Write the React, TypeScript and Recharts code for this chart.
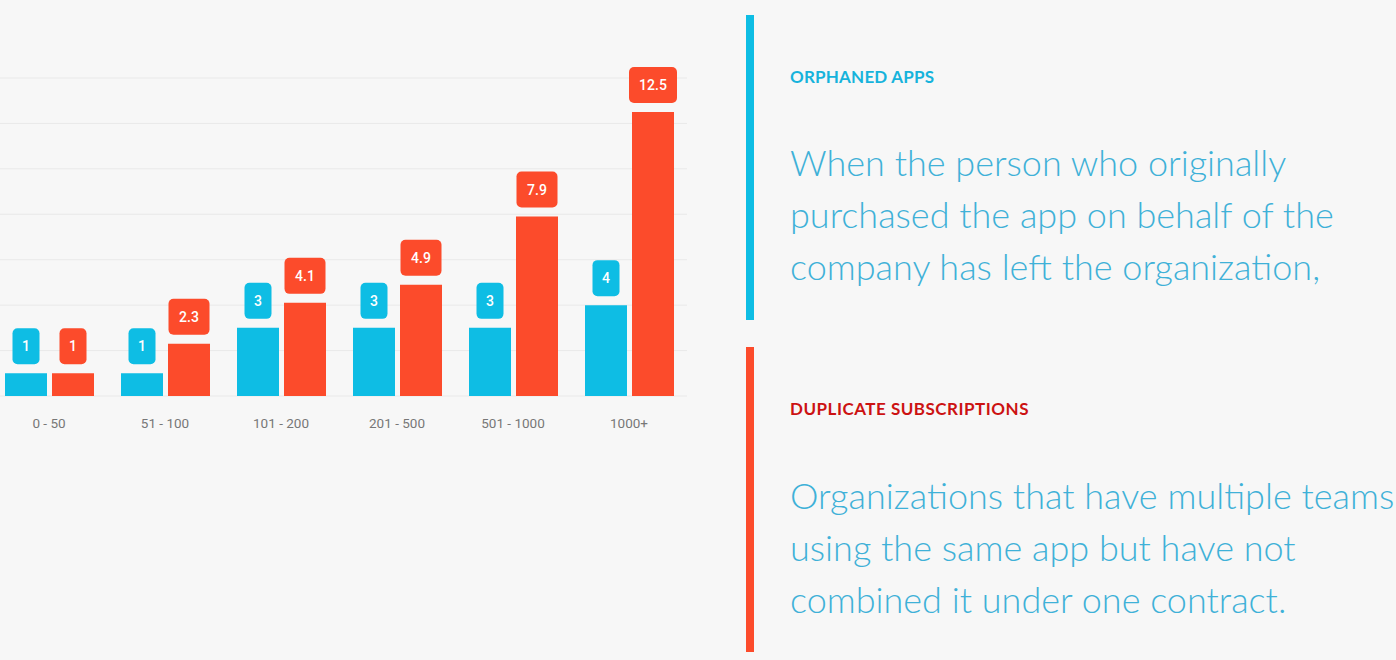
import { BarChart, Bar, XAxis, YAxis, CartesianGrid, LabelList } from "recharts";

const categories = ["0 - 50", "51 - 100", "101 - 200", "201 - 500", "501 - 1000", "1000+"];
const orphaned = [1, 1, 3, 3, 3, 4];
const duplicate = [1, 2.3, 4.1, 4.9, 7.9, 12.5];
const yTicks = [0, 2, 4, 6, 8, 10, 12, 14];

const data = categories.map((name, i) => ({
  name,
  orphaned: orphaned[i],
  duplicate: duplicate[i],
}));

const BLUE = "#0ebde4";
const RED = "#fc4b2b";

function Badge(color: string) {
  return (props: any) => {
    const { x, y, width, value } = props;
    const text = String(value);
    const w = 20 + 7 * text.length;
    const h = 36;
    const cx = x + width / 2;
    const top = y - 9 - h;
    return (
      <g>
        <rect x={cx - w / 2} y={top} width={w} height={h} rx={5} ry={5} fill={color} />
        <text
          x={cx}
          y={top + h / 2}
          textAnchor="middle"
          dominantBaseline="central"
          fill="#fff"
          fontSize={14}
          fontWeight={500}
          fontFamily="Roboto, Arial, sans-serif"
        >
          {text}
        </text>
      </g>
    );
  };
}

export default function App() {
  return (
    <div
      style={{
        position: "absolute",
        top: 0,
        left: 0,
        width: 1396,
        height: 660,
        overflow: "hidden",
        background: "#f7f7f7",
        fontFamily: "Lato, sans-serif",
      }}
    >
      <div style={{ position: "absolute", left: -9, top: 0 }}>
        <BarChart
          width={700}
          height={460}
          data={data}
          margin={{ top: 78, right: 4, bottom: 34, left: 0 }}
          barSize={42}
          barGap={5}
        >
          <CartesianGrid vertical={false} stroke="#e9e9e9" strokeWidth={1} />
          <XAxis
            dataKey="name"
            axisLine={false}
            tickLine={false}
            tickMargin={16}
            height={30}
            tick={{ fill: "#777", fontSize: 13.5, fontFamily: "Roboto, sans-serif" }}
          />
          <YAxis hide domain={[0, 14]} ticks={yTicks} />
          <Bar dataKey="orphaned" fill={BLUE} isAnimationActive={false}>
            <LabelList dataKey="orphaned" content={Badge(BLUE)} />
          </Bar>
          <Bar dataKey="duplicate" fill={RED} isAnimationActive={false}>
            <LabelList dataKey="duplicate" content={Badge(RED)} />
          </Bar>
        </BarChart>
      </div>

      <div style={{ position: "absolute", left: 746, top: 15, width: 8, height: 305, background: BLUE }} />
      <div style={{ position: "absolute", left: 746, top: 347, width: 8, height: 305, background: RED }} />

      <div
        style={{
          position: "absolute",
          left: 790,
          top: 67,
          fontSize: 17,
          letterSpacing: 0.2,
          fontWeight: 700,
          color: "#16b3dc",
          lineHeight: "20px",
        }}
      >
        ORPHANED APPS
      </div>
      <div
        style={{
          position: "absolute",
          left: 790,
          top: 136,
          width: 620,
          fontSize: 36,
          fontWeight: 300,
          color: "#3fb1d8",
          lineHeight: "52px",
          whiteSpace: "nowrap",
        }}
      >
        When the person who originally
        <br />
        purchased the app on behalf of the
        <br />
        company has left the organization,
      </div>

      <div
        style={{
          position: "absolute",
          left: 790,
          top: 399,
          fontSize: 17,
          letterSpacing: 0.5,
          fontWeight: 700,
          color: "#cc1212",
          lineHeight: "20px",
        }}
      >
        DUPLICATE SUBSCRIPTIONS
      </div>
      <div
        style={{
          position: "absolute",
          left: 790,
          top: 469,
          width: 620,
          fontSize: 36,
          fontWeight: 300,
          color: "#3fb1d8",
          lineHeight: "52px",
          whiteSpace: "nowrap",
        }}
      >
        Organizations that have multiple teams
        <br />
        using the same app but have not
        <br />
        combined it under one contract.
      </div>
    </div>
  );
}
